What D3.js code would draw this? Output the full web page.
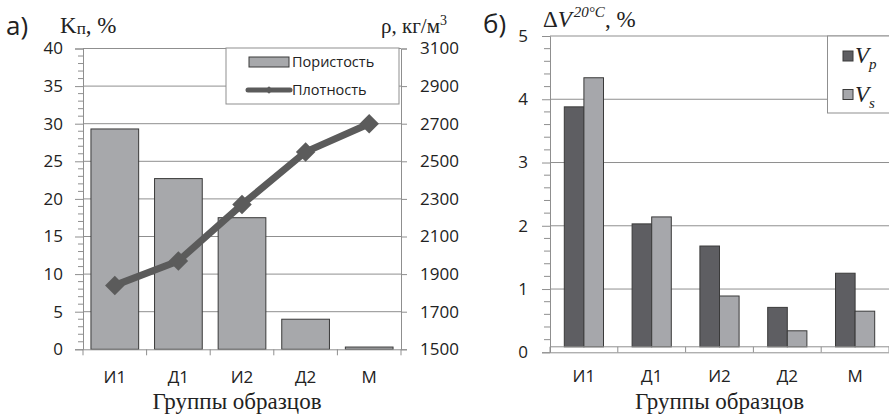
<!DOCTYPE html>
<html><head><meta charset="utf-8">
<script src="https://cdn.jsdelivr.net/npm/d3@7"></script>
<style>body{margin:0;background:#fff}svg{display:block}</style>
</head><body><svg id="c" width="889" height="419"></svg>
<script>
const categories = ["И1","Д1","И2","Д2","М"];
const porosity = [29.3, 22.7, 17.5, 4.0, 0.3];
const density = [1840, 1970, 2270, 2550, 2700];
const leftTicks = [0,5,10,15,20,25,30,35,40];
const rightTicks = [1500,1700,1900,2100,2300,2500,2700,2900,3100];
const vp = [3.88, 2.03, 1.68, 0.71, 1.25];
const vs = [4.34, 2.14, 0.89, 0.34, 0.65];
const dvTicks = [0,1,2,3,4,5];
const seriesNames = ["Пористость","Плотность"];

const svg = d3.select("#c");
const SANS = "'Open Sans', sans-serif";
const SERIF = "'Liberation Serif', 'Times New Roman', serif";
const GRID = "#8f8f8f";
const fmt = d3.format("d");

// ---------- Left chart ----------
const L = {x0:83, x1:401, yT:48.5, yB:349.3};
const xL = d3.scaleBand().domain(categories).range([L.x0, L.x1]).paddingInner(0.25).paddingOuter(0.125);
const yL = d3.scaleLinear().domain([0,40]).range([L.yB, L.yT]);
const yR = d3.scaleLinear().domain([1500,3100]).range([L.yB, L.yT]);
const gL = svg.append("g");

gL.selectAll("line.grid").data(leftTicks.filter(d=>d>0)).join("line")
  .attr("x1", L.x0).attr("x2", L.x1).attr("y1", d=>yL(d)).attr("y2", d=>yL(d))
  .attr("stroke", GRID).attr("stroke-width", 1);

const axL = d3.axisLeft(yL).tickValues(leftTicks).tickFormat(fmt).tickSize(8).tickPadding(12);
const gaxL = gL.append("g").attr("transform", `translate(${L.x0},0)`).call(axL);
gL.append("g").selectAll("line").data(d3.range(0,41,1).filter(d=>d%5)).join("line")
  .attr("x1", L.x0-5).attr("x2", L.x0).attr("y1", d=>yL(d)).attr("y2", d=>yL(d))
  .attr("stroke", GRID);
const axR = d3.axisRight(yR).tickValues(rightTicks).tickFormat(fmt).tickSize(6).tickPadding(13);
const gaxR = gL.append("g").attr("transform", `translate(${L.x1},0)`).call(axR);
[gaxL, gaxR].forEach(g=>{
  g.select(".domain").attr("stroke", GRID);
  g.selectAll(".tick line").attr("stroke", GRID);
  g.selectAll(".tick text").attr("font-family", SANS).attr("font-size", 17).attr("fill", "#222");
});

gL.selectAll("rect.bar").data(porosity).join("rect")
  .attr("x", (d,i)=>xL(categories[i])).attr("width", xL.bandwidth())
  .attr("y", d=>yL(d)).attr("height", d=>yL(0)-yL(d))
  .attr("fill", "#a7a8ab").attr("stroke", "#3a3a3a").attr("stroke-width", 1);

const bandStep = (L.x1-L.x0)/categories.length;
const xAxL = d3.axisBottom(xL).tickSize(0).tickPadding(22);
const gxL = gL.append("g").attr("transform", `translate(0,${L.yB})`).call(xAxL);
gxL.select(".domain").attr("stroke", GRID);
gxL.selectAll(".tick text").attr("font-family", SANS).attr("font-size", 17).attr("fill", "#222");
gL.append("g").selectAll("line").data(d3.range(categories.length+1)).join("line")
  .attr("x1", i=>L.x0+i*bandStep).attr("x2", i=>L.x0+i*bandStep)
  .attr("y1", L.yB).attr("y2", L.yB+6).attr("stroke", GRID);

const cx = c => xL(c)+xL.bandwidth()/2;
const line = d3.line().x((d,i)=>cx(categories[i])).y(d=>yR(d));
gL.append("path").datum(density).attr("d", line)
  .attr("fill","none").attr("stroke","#5b5b5b").attr("stroke-width",7).attr("stroke-linejoin","round");
const diamond = d3.symbol().type(d3.symbolSquare).size(190);
gL.selectAll("path.mk").data(density).join("path")
  .attr("d", diamond)
  .attr("transform", (d,i)=>`translate(${cx(categories[i])},${yR(d)}) rotate(45)`)
  .attr("fill","#5b5b5b");

const lg = gL.append("g");
lg.append("rect").attr("x",226).attr("y",48).attr("width",173).attr("height",56)
  .attr("fill","#fff").attr("stroke",GRID);
lg.append("rect").attr("x",249).attr("y",57).attr("width",40).attr("height",10)
  .attr("fill","#a7a8ab").attr("stroke","#3a3a3a");
lg.append("text").attr("x",292).attr("y",67).text(seriesNames[0])
  .attr("font-family",SANS).attr("font-size",14.5).attr("fill","#222");
lg.append("line").attr("x1",248).attr("x2",290).attr("y1",90).attr("y2",90)
  .attr("stroke","#5b5b5b").attr("stroke-width",5).attr("stroke-linecap","round");
lg.append("path").attr("d", d3.symbol().type(d3.symbolSquare).size(30))
  .attr("transform","translate(269,90) rotate(45)").attr("fill","#5b5b5b");
lg.append("text").attr("x",292).attr("y",95).text(seriesNames[1])
  .attr("font-family",SANS).attr("font-size",14.5).attr("fill","#222");

svg.append("text").attr("x",6).attr("y",35).text("а)")
  .attr("font-family",SANS).attr("font-size",26).attr("fill","#222");
const kp = svg.append("text").attr("x",60).attr("y",33)
  .attr("font-family",SERIF).attr("font-size",23).attr("fill","#222");
kp.append("tspan").text("K");
kp.append("tspan").text("п").attr("font-size",17).attr("dy",1);
kp.append("tspan").text(", %").attr("dy",-1);
const rho = svg.append("text").attr("x",447).attr("y",33).attr("text-anchor","end")
  .attr("font-family",SERIF).attr("font-size",21).attr("fill","#222");
rho.append("tspan").text("ρ, кг/м");
rho.append("tspan").text("3").attr("font-size",14).attr("dy",-8);
svg.append("text").attr("x",(L.x0+L.x1)/2-5).attr("y",409).attr("text-anchor","middle")
  .text("Группы образцов").attr("font-family",SERIF).attr("font-size",23).attr("fill","#222");

// ---------- Right chart ----------
const R = {x0:550, x1:889, yT:36, yB:352.3};
const xR = d3.scaleBand().domain(categories).range([R.x0, R.x1]);
const xSub = d3.scaleBand().domain(["Vp","Vs"]).range([0, xR.bandwidth()]).paddingInner(0).paddingOuter(0.73);
const yV = d3.scaleLinear().domain([0,5]).range([R.yB, R.yT]);
const gR = svg.append("g");
const floorY = yV(0)-5.5;

gR.selectAll("line.grid").data(dvTicks.filter(d=>d>0)).join("line")
  .attr("x1", R.x0).attr("x2", R.x1).attr("y1", d=>yV(d)).attr("y2", d=>yV(d))
  .attr("stroke", GRID);

const axV = d3.axisLeft(yV).tickValues(dvTicks).tickFormat(fmt).tickSize(8).tickPadding(14);
const gaxV = gR.append("g").attr("transform",`translate(${R.x0},0)`).call(axV);
gaxV.select(".domain").attr("stroke", GRID);
gaxV.selectAll(".tick line").attr("stroke", GRID);
gaxV.selectAll(".tick text").attr("font-family",SANS).attr("font-size",17).attr("fill","#222");
gR.append("g").selectAll("line").data(d3.range(0,5.01,0.2).filter(d=>Math.abs(d-Math.round(d))>0.01)).join("line")
  .attr("x1", R.x0-6).attr("x2", R.x0).attr("y1", d=>yV(d)).attr("y2", d=>yV(d)).attr("stroke", GRID);

const groups = [{k:"Vp", v:vp, fill:"#5e5e62"}, {k:"Vs", v:vs, fill:"#a6a7ab"}];
groups.forEach(s=>{
  gR.selectAll(null).data(s.v).join("rect")
    .attr("x",(d,i)=>xR(categories[i])+xSub(s.k)).attr("width",xSub.bandwidth())
    .attr("y",d=>yV(d)).attr("height",d=>floorY-yV(d))
    .attr("fill",s.fill).attr("stroke","#3a3a3a").attr("stroke-width",1);
});

gR.append("line").attr("x1",R.x0).attr("x2",R.x1).attr("y1",floorY).attr("y2",floorY).attr("stroke",GRID);
const xAxR = d3.axisBottom(xR).tickSize(0).tickPadding(18);
const gxR = gR.append("g").attr("transform",`translate(0,${R.yB})`).call(xAxR);
gxR.select(".domain").attr("stroke",GRID);
gxR.selectAll(".tick text").attr("font-family",SANS).attr("font-size",17).attr("fill","#222");
gR.append("g").selectAll("line").data(d3.range(categories.length+1)).join("line")
  .attr("x1",i=>R.x0+i*xR.step()).attr("x2",i=>R.x0+i*xR.step())
  .attr("y1",floorY).attr("y2",R.yB).attr("stroke",GRID);

const lg2 = gR.append("g");
lg2.append("rect").attr("x",827.5).attr("y",36).attr("width",80).attr("height",77)
  .attr("fill","#fff").attr("stroke",GRID);
[{k:"Vp",sub:"p",y:51,fill:"#5e5e62"},{k:"Vs",sub:"s",y:89.5,fill:"#a6a7ab"}].forEach(e=>{
  lg2.append("rect").attr("x",843).attr("y",e.y).attr("width",10).attr("height",10)
    .attr("fill",e.fill).attr("stroke","#3a3a3a");
  const t = lg2.append("text").attr("x",855).attr("y",e.y+12)
    .attr("font-family",SERIF).attr("font-style","italic").attr("font-size",23).attr("fill","#222");
  t.append("tspan").text("V");
  t.append("tspan").text(e.sub).attr("font-size",15).attr("dy",6);
});

svg.append("text").attr("x",483).attr("y",33).text("б)")
  .attr("font-family",SANS).attr("font-size",26).attr("fill","#222");
const dv = svg.append("text").attr("x",543).attr("y",27)
  .attr("font-family",SERIF).attr("font-size",23).attr("fill","#222");
dv.append("tspan").text("Δ");
dv.append("tspan").text("V").attr("font-style","italic");
dv.append("tspan").text("20°C").attr("font-style","italic").attr("font-size",15).attr("dy",-10).attr("dx",2);
dv.append("tspan").text(", %").attr("dy",10);
svg.append("text").attr("x",(R.x0+R.x1)/2).attr("y",409).attr("text-anchor","middle")
  .text("Группы образцов").attr("font-family",SERIF).attr("font-size",23).attr("fill","#222");
</script></body></html>
